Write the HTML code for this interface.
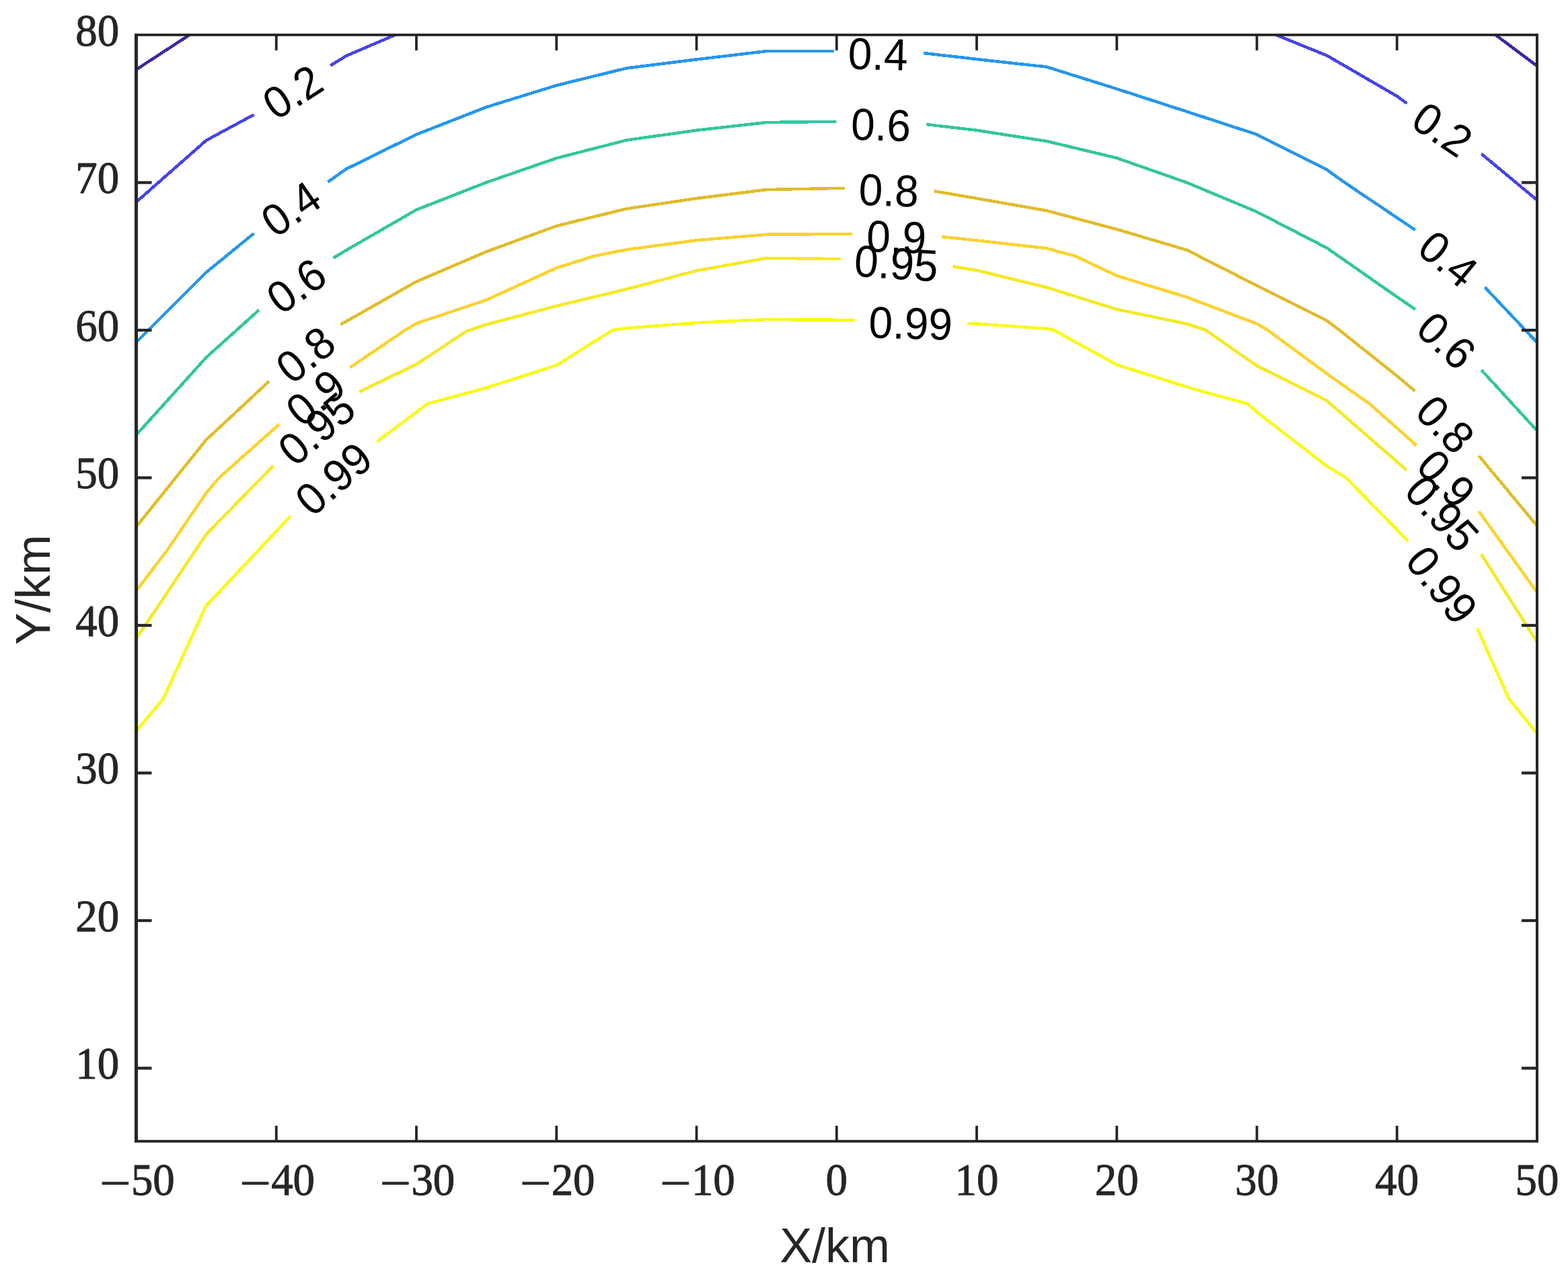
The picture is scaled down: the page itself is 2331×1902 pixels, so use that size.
<!DOCTYPE html>
<html lang="en"><head><meta charset="utf-8"><title>Contour plot</title>
<style>
html,body{margin:0;padding:0;background:#fff;}
body{width:2331px;height:1902px;overflow:hidden;}
svg{display:block;}
.c{fill:none;stroke-width:4.5;stroke-linejoin:round;stroke-linecap:butt;}
.ax{fill:#262626;stroke:none;}
.tl{font-family:"Liberation Serif","DejaVu Serif",serif;font-size:67.6px;fill:#262626;stroke:#262626;stroke-width:1;stroke-linejoin:round;}
.al{font-family:"Liberation Sans","DejaVu Sans",sans-serif;font-size:70.5px;fill:#262626;text-anchor:middle;}
.cl{font-family:"Liberation Sans","DejaVu Sans",sans-serif;font-size:66.6px;fill:#000;text-anchor:middle;}
</style></head><body>
<svg width="2331" height="1902" viewBox="0 0 2331 1902" role="img" aria-label="Contour plot, X/km versus Y/km">
<rect x="0" y="0" width="2331" height="1902" fill="#fff"/>
<defs><clipPath id="cp"><rect x="200" y="50" width="2087" height="1649.1"/></clipPath></defs>
<g clip-path="url(#cp)" shape-rendering="crispEdges">
<g class="c" stroke="#3E26A8">
<polyline points="197.47,106.78 286.53,48.72"/>
<polyline points="2218.6,48.4 2289.8,101.7"/>
</g>
<g class="c" stroke="#4743E9">
<polyline points="198,304.47 306.6,208.75 377.5,170.5"/>
<polyline points="491.25,97.5 514.9,83 592.82,49.64"/>
<polyline points="1891.64,49.74 1972.6,82.6 2076.75,143 2091.5,153.75"/>
<polyline points="2202.25,228.75 2289.62,301.33"/>
</g>
<g class="c" stroke="#2797EB">
<polyline points="198.26,513.24 306.6,405 377.5,347"/>
<polyline points="487.5,270.5 514.9,251.25 619,200 723.1,159.25 827.25,127 931.4,101.4 1035.5,88.4 1139.6,76.1 1240,76"/>
<polyline points="1373.1,79 1452,88 1556.1,99.5 1660.25,132.2 1764.4,166 1868.5,200 1972.6,252.5 1998.75,271.25 2076.75,323.75 2104,341.9"/>
<polyline points="2207.25,427 2289.12,513.76"/>
</g>
<g class="c" stroke="#34C79C">
<polyline points="198.48,651.25 306.6,531.5 385,461"/>
<polyline points="495.5,383.75 514.9,372 619,312 723.1,271.25 827.25,235.2 931.4,208.4 1035.5,193.75 1139.6,182 1243.5,180.75"/>
<polyline points="1377.25,185 1452,193.75 1556.1,210 1660.25,235 1764.4,271.5 1868.5,315 1972.6,368.75 2076.75,441.5 2104,460"/>
<polyline points="2202.25,550.25 2289.05,644.92"/>
</g>
<g class="c" stroke="#E2BC2B">
<polyline points="198.74,788.07 306.6,654 400,567"/>
<polyline points="506.25,482.75 619,418.75 723.1,374.25 827.25,336 931.4,310.4 1035.5,295 1139.6,282 1243.75,280 1255.75,280"/>
<polyline points="1389,284.2 1452,295 1556.1,313.25 1660.25,341 1764.4,371.8 1868.5,424.75 1972.6,477 1991,490.75 2076.75,559 2103.5,581.5"/>
<polyline points="2198.5,677.75 2288.83,786.62"/>
</g>
<g class="c" stroke="#FBD32E">
<polyline points="198.86,883.37 247.3,820 306.6,733 326,710.25 415,631"/>
<polyline points="520.5,546.5 602.5,490.75 619,481 723.1,446 827.25,398.5 882,381 931.4,371.25 1035.5,357.25 1139.6,348.75 1243.75,348 1267,348"/>
<polyline points="1400,352 1452,357.5 1556.1,369.25 1599,381 1660.25,410 1764.4,442 1868.5,481.4 1884.3,490.75 1972.6,555.75 2036,600.5 2076.75,636.5 2106,662.75"/>
<polyline points="2198.5,760.25 2288.49,885.88"/>
</g>
<g class="c" stroke="#F5EA24">
<polyline points="199.05,953.91 216,929.75 306.6,794.5 406.25,692.75"/>
<polyline points="534.3,582.6 619,541.8 693.3,492.7 723.1,482.5 827.25,455 931.4,430 1035.5,402.5 1139.6,383.75 1243.75,385 1249.5,385"/>
<polyline points="1416.5,396.25 1452,402 1556.1,427.4 1660.25,460 1764.4,481.5 1792.25,490.75 1868.5,544 1972.6,596 2076.75,686.6 2091,699"/>
<polyline points="2202.1,824.3 2288.22,959.56"/>
</g>
<g class="c" stroke="#F9FB15">
<polyline points="198.64,1091.59 242.5,1039.5 305.8,901.5 432,767.3"/>
<polyline points="560.5,656.6 635.3,600.5 723.1,576.6 827.25,543.2 910.75,490.75 931.4,488 1035.5,480 1139.6,475 1243.75,475.75 1270.75,475.75"/>
<polyline points="1438.5,480.75 1452,481.5 1556.1,488.75 1566.5,490.75 1660.25,542.5 1776,579 1854.75,600.5 1868.5,612.75 1972.6,693.2 2000.8,710.25 2076.75,787.9 2092.75,804.6"/>
<polyline points="2196,934.2 2243,1039 2288.77,1095.67"/>
</g>
</g>
<g class="cl">
<text transform="translate(433.2 134) rotate(-32.7) translate(0 26.4) scale(0.96 1)">0.2</text>
<text transform="translate(430.7 308) rotate(-34.8) translate(0 26.4) scale(0.96 1)">0.4</text>
<text transform="translate(438.7 422.5) rotate(-35) translate(0 26.4) scale(0.96 1)">0.6</text>
<text transform="translate(452.1 524.9) rotate(-38.4) translate(0 26.4) scale(0.96 1)">0.8</text>
<text transform="translate(466.9 588.7) rotate(-38.9) translate(0 26.4) scale(0.96 1)">0.9</text>
<text transform="translate(468.6 635.1) rotate(-40.6) translate(0 26.4) scale(0.96 1)">0.95</text>
<text transform="translate(493.9 709.6) rotate(-41) translate(0 26.4) scale(0.96 1)">0.99</text>
<text transform="translate(1305.3 77.2) rotate(1.4) translate(0 26.4) scale(0.96 1)">0.4</text>
<text transform="translate(1309.7 182.4) rotate(1.8) translate(0 26.4) scale(0.96 1)">0.6</text>
<text transform="translate(1321.4 279.9) rotate(1.9) translate(0 26.4) scale(0.96 1)">0.8</text>
<text transform="translate(1332.7 349.1) rotate(1.9) translate(0 26.4) scale(0.96 1)">0.9</text>
<text transform="translate(1332.7 388.4) rotate(3.85) translate(0 26.4) scale(0.96 1)">0.95</text>
<text transform="translate(1353.9 477.6) rotate(1.5) translate(0 26.4) scale(0.96 1)">0.99</text>
<text transform="translate(2146.2 189.8) rotate(34.1) translate(0 26.4) scale(0.96 1)">0.2</text>
<text transform="translate(2155.1 382.4) rotate(39.6) translate(0 26.4) scale(0.96 1)">0.4</text>
<text transform="translate(2152.5 503.9) rotate(42.4) translate(0 26.4) scale(0.96 1)">0.6</text>
<text transform="translate(2150.9 628.6) rotate(45.4) translate(0 26.4) scale(0.96 1)">0.8</text>
<text transform="translate(2152.5 709.5) rotate(46.5) translate(0 26.4) scale(0.96 1)">0.9</text>
<text transform="translate(2146.3 761.3) rotate(48) translate(0 26.4) scale(0.96 1)">0.95</text>
<text transform="translate(2146 867.7) rotate(51.7) translate(0 26.4) scale(0.96 1)">0.99</text>
</g>
<g class="ax">
<rect x="200" y="50" width="5" height="1649.1"/>
<rect x="2283" y="50" width="4" height="1649.1"/>
<rect x="200" y="50" width="2087" height="3.8"/>
<rect x="200" y="1695.2" width="2087" height="3.9"/>
<rect x="408.85" y="1674.1" width="3.8" height="23"/>
<rect x="408.85" y="51.9" width="3.8" height="23"/>
<rect x="617.1" y="1674.1" width="3.8" height="23"/>
<rect x="617.1" y="51.9" width="3.8" height="23"/>
<rect x="825.35" y="1674.1" width="3.8" height="23"/>
<rect x="825.35" y="51.9" width="3.8" height="23"/>
<rect x="1033.6" y="1674.1" width="3.8" height="23"/>
<rect x="1033.6" y="51.9" width="3.8" height="23"/>
<rect x="1241.85" y="1674.1" width="3.8" height="23"/>
<rect x="1241.85" y="51.9" width="3.8" height="23"/>
<rect x="1450.1" y="1674.1" width="3.8" height="23"/>
<rect x="1450.1" y="51.9" width="3.8" height="23"/>
<rect x="1658.35" y="1674.1" width="3.8" height="23"/>
<rect x="1658.35" y="51.9" width="3.8" height="23"/>
<rect x="1866.6" y="1674.1" width="3.8" height="23"/>
<rect x="1866.6" y="51.9" width="3.8" height="23"/>
<rect x="2074.85" y="1674.1" width="3.8" height="23"/>
<rect x="2074.85" y="51.9" width="3.8" height="23"/>
<rect x="202.5" y="1586.35" width="23" height="4.3"/>
<rect x="2262" y="1586.35" width="23" height="4.3"/>
<rect x="202.5" y="1366.85" width="23" height="4.3"/>
<rect x="2262" y="1366.85" width="23" height="4.3"/>
<rect x="202.5" y="1147.35" width="23" height="4.3"/>
<rect x="2262" y="1147.35" width="23" height="4.3"/>
<rect x="202.5" y="927.85" width="23" height="4.3"/>
<rect x="2262" y="927.85" width="23" height="4.3"/>
<rect x="202.5" y="708.35" width="23" height="4.3"/>
<rect x="2262" y="708.35" width="23" height="4.3"/>
<rect x="202.5" y="488.85" width="23" height="4.3"/>
<rect x="2262" y="488.85" width="23" height="4.3"/>
<rect x="202.5" y="269.35" width="23" height="4.3"/>
<rect x="2262" y="269.35" width="23" height="4.3"/>
</g>
<g class="tl">
<text transform="translate(147.9 1781.8) scale(1.22 1)">−</text>
<text transform="translate(194.9 1776.9) scale(0.96 1)">50</text>
<text transform="translate(356.15 1781.8) scale(1.22 1)">−</text>
<text transform="translate(403.15 1776.9) scale(0.96 1)">40</text>
<text transform="translate(564.4 1781.8) scale(1.22 1)">−</text>
<text transform="translate(611.4 1776.9) scale(0.96 1)">30</text>
<text transform="translate(772.65 1781.8) scale(1.22 1)">−</text>
<text transform="translate(819.65 1776.9) scale(0.96 1)">20</text>
<text transform="translate(980.9 1781.8) scale(1.22 1)">−</text>
<text transform="translate(1027.9 1776.9) scale(0.96 1)">10</text>
<text transform="translate(1243.75 1776.9) scale(0.96 1)" text-anchor="middle">0</text>
<text transform="translate(1452 1776.9) scale(0.96 1)" text-anchor="middle">10</text>
<text transform="translate(1660.25 1776.9) scale(0.96 1)" text-anchor="middle">20</text>
<text transform="translate(1868.5 1776.9) scale(0.96 1)" text-anchor="middle">30</text>
<text transform="translate(2076.75 1776.9) scale(0.96 1)" text-anchor="middle">40</text>
<text transform="translate(2285 1776.9) scale(0.96 1)" text-anchor="middle">50</text>
<text transform="translate(177.2 1604.15) scale(0.96 1)" text-anchor="end">10</text>
<text transform="translate(177.2 1384.65) scale(0.96 1)" text-anchor="end">20</text>
<text transform="translate(177.2 1165.15) scale(0.96 1)" text-anchor="end">30</text>
<text transform="translate(177.2 945.65) scale(0.96 1)" text-anchor="end">40</text>
<text transform="translate(177.2 726.15) scale(0.96 1)" text-anchor="end">50</text>
<text transform="translate(177.2 506.65) scale(0.96 1)" text-anchor="end">60</text>
<text transform="translate(177.2 287.15) scale(0.96 1)" text-anchor="end">70</text>
<text transform="translate(177.2 67.65) scale(0.96 1)" text-anchor="end">80</text>
</g>
<text class="al" transform="translate(1241 1876.7) scale(1.02 1.02)">X/km</text>
<text class="al" transform="translate(74.2 877) rotate(-90) scale(1.02 1.02)">Y/km</text>
</svg>
</body></html>
